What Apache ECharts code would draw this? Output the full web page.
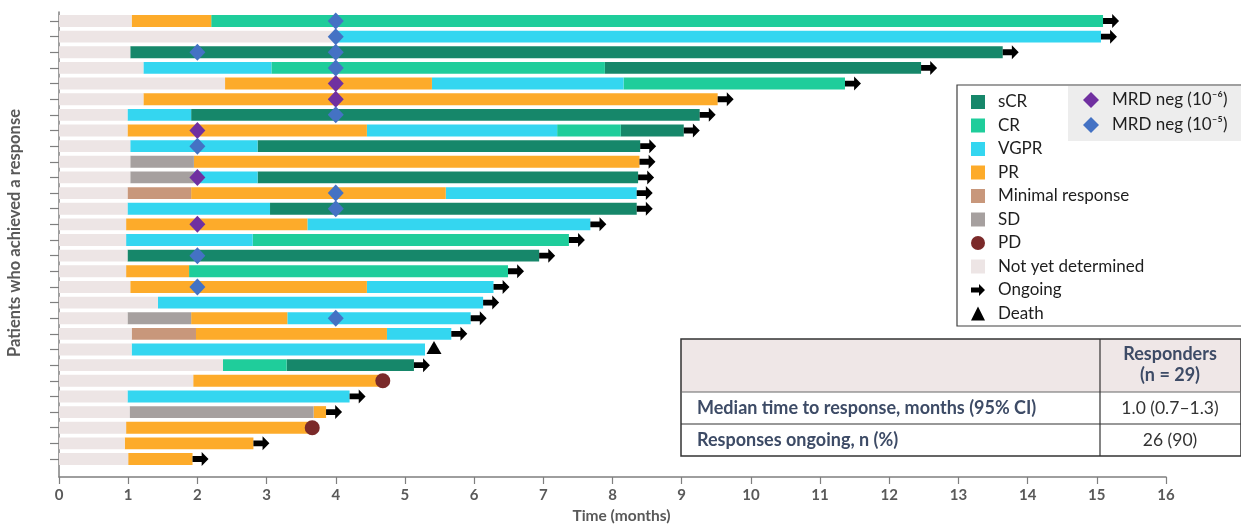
<!DOCTYPE html>
<html><head><meta charset="utf-8">
<script src="https://cdn.jsdelivr.net/npm/echarts@6/dist/echarts.min.js"></script>
<style>html,body{margin:0;padding:0;background:#fff}#c{width:1241px;height:526px}</style>
</head><body><div id="c"></div><script>
// ---------- DATA ----------
const patientRows = [1,2,3,4,5,6,7,8,9,10,11,12,13,14,15,16,17,18,19,20,21,22,23,24,25,26,27,28,29];
const xTickValues = [0,1,2,3,4,5,6,7,8,9,10,11,12,13,14,15,16];
// each row: list of [state, startMonth, endMonth]
const segments = [
  [['NYD',0,1.05],['PR',1.05,2.2],['CR',2.2,15.09]],
  [['NYD',0,4.03],['VGPR',4.03,15.06]],
  [['NYD',0,1.03],['sCR',1.03,13.64]],
  [['NYD',0,1.22],['VGPR',1.22,3.07],['CR',3.07,7.89],['sCR',7.89,12.46]],
  [['NYD',0,2.4],['PR',2.4,5.39],['VGPR',5.39,8.16],['CR',8.16,11.36]],
  [['NYD',0,1.22],['PR',1.22,9.52]],
  [['NYD',0,0.99],['VGPR',0.99,1.91],['sCR',1.91,9.26]],
  [['NYD',0,0.99],['PR',0.99,4.45],['VGPR',4.45,7.2],['CR',7.2,8.12],['sCR',8.12,9.03]],
  [['NYD',0,1.03],['VGPR',1.03,2.87],['sCR',2.87,8.4]],
  [['NYD',0,1.03],['SD',1.03,1.95],['PR',1.95,8.39]],
  [['NYD',0,1.03],['SD',1.03,1.95],['VGPR',1.95,2.87],['sCR',2.87,8.37]],
  [['NYD',0,0.99],['MR',0.99,1.91],['PR',1.91,5.59],['VGPR',5.59,8.35]],
  [['NYD',0,0.99],['VGPR',0.99,3.05],['sCR',3.05,8.35]],
  [['NYD',0,0.97],['PR',0.97,3.59],['VGPR',3.59,7.68]],
  [['NYD',0,0.97],['VGPR',0.97,2.8],['CR',2.8,7.37]],
  [['NYD',0,0.99],['sCR',0.99,6.94]],
  [['NYD',0,0.97],['PR',0.97,1.88],['CR',1.88,6.49]],
  [['NYD',0,1.03],['PR',1.03,4.45],['VGPR',4.45,6.28]],
  [['NYD',0,1.43],['VGPR',1.43,6.13]],
  [['NYD',0,0.99],['SD',0.99,1.91],['PR',1.91,3.3],['VGPR',3.3,5.95]],
  [['NYD',0,1.05],['MR',1.05,1.98],['PR',1.98,4.74],['VGPR',4.74,5.67]],
  [['NYD',0,1.05],['VGPR',1.05,5.29]],
  [['NYD',0,2.37],['CR',2.37,3.29],['sCR',3.29,5.13]],
  [['NYD',0,1.94],['PR',1.94,4.68]],
  [['NYD',0,0.99],['VGPR',0.99,4.2]],
  [['NYD',0,1.02],['SD',1.02,3.68],['PR',3.68,3.86]],
  [['NYD',0,0.97],['PR',0.97,3.66]],
  [['NYD',0,0.95],['PR',0.95,2.81]],
  [['NYD',0,1.0],['PR',1.0,1.93]]
];
const mrdNeg6 = [[5,4],[6,4],[8,2],[11,2],[14,2]];            // [row, month]
const mrdNeg5 = [[1,4],[2,4],[3,2],[3,4],[4,4],[7,4],[9,2],[12,4],[13,4],[16,2],[18,2],[20,4]];
const ongoingRows = [1,2,3,4,5,6,7,8,9,10,11,12,13,14,15,16,17,18,19,20,21,23,25,26,28,29];
const pdRows = [24,27];
const deathRows = [22];
const stateKeys = ['sCR','CR','VGPR','PR','MR','SD','NYD'];
const stateLabels = {sCR:'sCR',CR:'CR',VGPR:'VGPR',PR:'PR',MR:'Minimal response',SD:'SD',NYD:'Not yet determined'};
const tableRows = [
  ['Median time to response, months (95% CI)','1.0 (0.7\u20131.3)'],
  ['Responses ongoing, n (%)','26 (90)']
];

// ---------- STYLE ----------
const colors = {sCR:'#16876a',CR:'#1fcd9b',VGPR:'#34d6f0',PR:'#fdab2a',MR:'#c8977b',SD:'#a6a09f',NYD:'#ede5e5',
  PD:'#7b2a2a',MRD6:'#7030a0',MRD5:'#4472c4'};
const FONT = 'Lato';
const arrowPath = 'path://M0,3.5 L8,3.5 L8,0 L14,6 L8,12 L8,8.5 L0,8.5 Z';

function rowEnd(r){ const s = segments[r-1]; return s[s.length-1][2]; }

const series = [];
stateKeys.forEach(k => {
  const data = [];
  segments.forEach((segs, i) => segs.forEach(s => { if (s[0]===k) data.push([s[1], s[2], patientRows[i]]); }));
  series.push({
    type:'custom', name: stateLabels[k], itemStyle:{color: colors[k]},
    encode:{x:[0,1], y:2},
    renderItem: function(params, api){
      const a = api.coord([api.value(0), api.value(2)]);
      const b = api.coord([api.value(1), api.value(2)]);
      const h = api.size([0,1])[1]*0.76;
      return {type:'rect', shape:{x:a[0], y:a[1]-h/2, width:b[0]-a[0], height:h},
        style:{fill: colors[k]}};
    },
    data: data, z:2
  });
});
series.push({type:'scatter', name:'PD', symbol:'circle', symbolSize:15, itemStyle:{color:colors.PD, opacity:1},
  data: pdRows.map(r => [rowEnd(r), r]), z:5});
series.push({type:'scatter', name:'Ongoing', symbol:arrowPath, symbolSize:[16,14], symbolOffset:[8,0],
  itemStyle:{color:'#000', opacity:1}, data: ongoingRows.map(r => [rowEnd(r), r]), z:5});
series.push({type:'scatter', name:'Death', symbol:'triangle', symbolSize:[15,13], symbolOffset:[9,-2],
  itemStyle:{color:'#000', opacity:1}, data: deathRows.map(r => [rowEnd(r), r]), z:5});
series.push({type:'scatter', name:'MRD neg (10\u207B\u2076)', symbol:'diamond', symbolSize:[16,17],
  itemStyle:{color:colors.MRD6, opacity:1}, data: mrdNeg6.map(d => [d[1], d[0]]), z:6});
series.push({type:'scatter', name:'MRD neg (10\u207B\u2075)', symbol:'diamond', symbolSize:[16,17],
  itemStyle:{color:colors.MRD5, opacity:1}, data: mrdNeg5.map(d => [d[1], d[0]]), z:6});

const legendText = {color:'#1e1e1e', fontSize:17, fontFamily:FONT, padding:[0,0,0,8]};
const tableColor = '#3d4b66';
const tx = 681, tw = 560, col2 = 1100, rY = [339, 392, 424, 456];

const option = {
  animation:false,
  backgroundColor:'#fff',
  grid:{left:59, right:75, top:12, bottom:49, containLabel:false, outerBoundsMode:'none'},
  xAxis:{type:'value', min:0, max:16, interval:1,
    axisLine:{lineStyle:{color:'#7f7f7f', width:1.5}},
    axisTick:{show:true, length:7, lineStyle:{color:'#7f7f7f', width:1.2}},
    axisLabel:{color:'#595959', fontSize:15, fontWeight:'bold', fontFamily:FONT, margin:11,
      formatter: v => xTickValues.indexOf(v)>=0 ? String(v) : ''},
    splitLine:{show:false},
    name:'Time (months)', nameLocation:'middle', nameGap:31,
    nameTextStyle:{color:'#595959', fontSize:15.5, fontWeight:'bold', fontFamily:FONT, padding:[0,0,0,18]}
  },
  yAxis:{type:'value', inverse:true, min:0.425, max:30.15,
    axisLine:{show:true, lineStyle:{color:'#7f7f7f', width:1.5}},
    axisTick:{show:true, length:9, customValues: patientRows, lineStyle:{color:'#7f7f7f', width:1.2}},
    axisLabel:{show:false},
    splitLine:{show:false},
    name:'Patients who achieved a response', nameLocation:'middle', nameGap:36,
    nameTextStyle:{color:'#595959', fontSize:16.5, fontWeight:'bold', fontFamily:FONT, padding:[0,0,0,23]}
  },
  legend:[
    {orient:'vertical', left:957, top:85, itemWidth:14, itemHeight:14, itemGap:6.5,
      padding:[8.5,140,4,14], borderColor:'#404040', borderWidth:1.2, selectedMode:false,
      textStyle:legendText,
      data:[
        {name:'sCR', icon:'rect'},{name:'CR', icon:'rect'},{name:'VGPR', icon:'rect'},{name:'PR', icon:'rect'},
        {name:'Minimal response', icon:'rect'},{name:'SD', icon:'rect'},{name:'PD', icon:'circle'},
        {name:'Not yet determined', icon:'rect'},{name:'Ongoing', icon:arrowPath},{name:'Death', icon:'triangle'}
      ]},
    {orient:'vertical', left:1068, top:86, itemWidth:16, itemHeight:16, itemGap:8,
      padding:[5.5,40,7.5,15], backgroundColor:'#ededed', selectedMode:false,
      textStyle:legendText,
      data:[{name:'MRD neg (10\u207B\u2076)', icon:'diamond'},{name:'MRD neg (10\u207B\u2075)', icon:'diamond'}]}
  ],
  graphic:[
    {type:'rect', shape:{x:tx, y:rY[0], width:tw, height:rY[1]-rY[0]}, style:{fill:'#efe7e7'}, z:10},
    {type:'rect', shape:{x:tx, y:rY[0], width:tw, height:rY[3]-rY[0]}, style:{fill:'none', stroke:'#333', lineWidth:1.5}, z:11},
    {type:'line', shape:{x1:tx, y1:rY[1], x2:tx+tw, y2:rY[1]}, style:{stroke:'#666', lineWidth:1}, z:11},
    {type:'line', shape:{x1:tx, y1:rY[2], x2:tx+tw, y2:rY[2]}, style:{stroke:'#333', lineWidth:1.2}, z:11},
    {type:'line', shape:{x1:col2, y1:rY[0], x2:col2, y2:rY[3]}, style:{stroke:'#333', lineWidth:1.2}, z:11},
    {type:'text', x:1170, y:354, z:12, style:{text:'Responders', fill:tableColor, font:'bold 18px '+FONT, textAlign:'center', textVerticalAlign:'middle'}},
    {type:'text', x:1170, y:375, z:12, style:{text:'(n = 29)', fill:tableColor, font:'bold 18px '+FONT, textAlign:'center', textVerticalAlign:'middle'}},
    {type:'text', x:697, y:408, z:12, style:{text:tableRows[0][0], fill:tableColor, font:'bold 18px '+FONT, textAlign:'left', textVerticalAlign:'middle'}},
    {type:'text', x:1170, y:408, z:12, style:{text:tableRows[0][1], fill:'#333', font:'17.5px '+FONT, textAlign:'center', textVerticalAlign:'middle'}},
    {type:'text', x:697, y:440, z:12, style:{text:tableRows[1][0], fill:tableColor, font:'bold 18px '+FONT, textAlign:'left', textVerticalAlign:'middle'}},
    {type:'text', x:1170, y:440, z:12, style:{text:tableRows[1][1], fill:'#333', font:'17.5px '+FONT, textAlign:'center', textVerticalAlign:'middle'}}
  ],
  series: series
};
const chart = echarts.init(document.getElementById('c'), null, {renderer:'canvas'});
chart.setOption(option);
</script></body></html>
